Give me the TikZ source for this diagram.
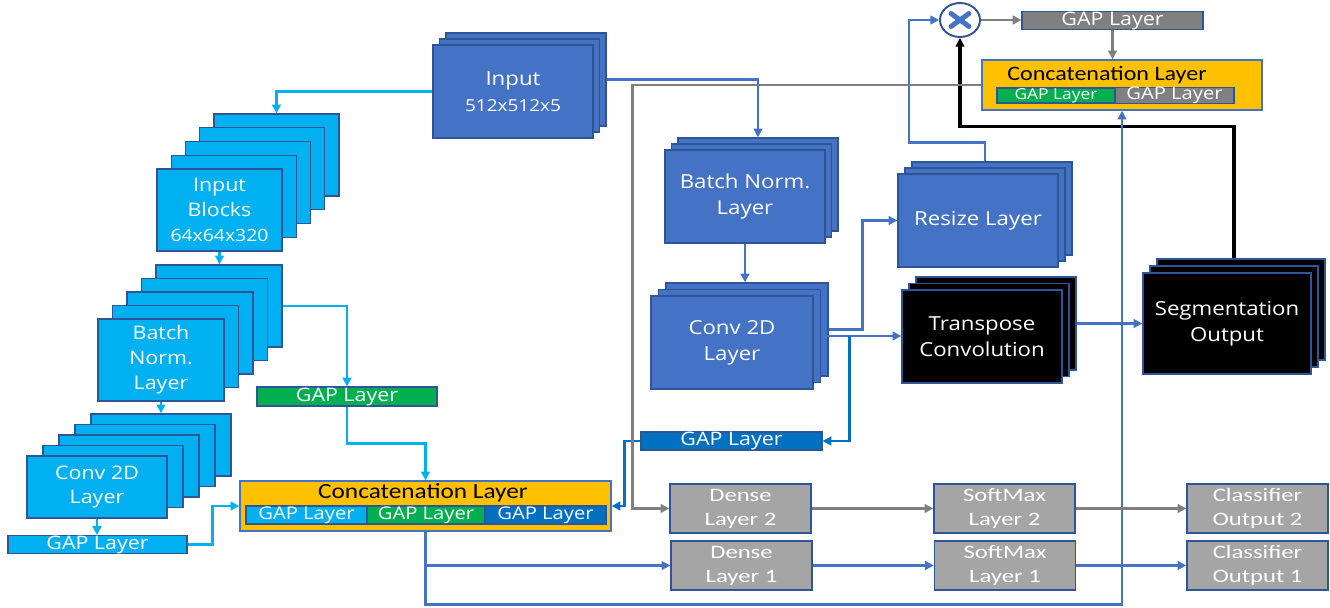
\documentclass[tikz,border=0pt]{standalone}
\usepackage{fontspec}
\setmainfont{Open Sans}[FakeStretch=1.15]
\newfontfamily\calfont{Carlito}[FakeStretch=1.17]
\newfontfamily\densefont{Carlito}[FakeStretch=1.3]
\usetikzlibrary{arrows.meta,shapes.geometric,calc}

\begin{document}
\begin{tikzpicture}[x=0.02cm, y=-0.02cm,
  layer/.style={draw=edgeblue, line width=0.8pt, inner sep=0pt, align=center,
    text=white, font=\fontsize{10.6}{14.2}\selectfont},
  cyanlayer/.style={layer, fill=cyanfill},
  bluelayer/.style={layer, fill=bluefill, font=\fontsize{11}{14.6}\selectfont},
  blacklayer/.style={layer, fill=black, font=\fontsize{11}{14.6}\selectfont},
  greylayer/.style={layer, fill=greyfill, minimum width=2.82cm, minimum height=0.98cm,
    font=\densefont\fontsize{10.8}{13.6}\selectfont},
  gapbar/.style={layer, line width=0.6pt},
  catbox/.style={draw=bluefill, line width=0.8pt, fill=goldfill, inner sep=0pt},
  cattitle/.style={inner sep=0pt, text=black, font=\calfont\fontsize{12.3}{14}\selectfont},
  link/.style={line width=1.5pt, -{Triangle[length=5pt,width=5pt]}},
  cyanline/.style={draw=cyanfill},
  blueline/.style={draw=bluefill},
  darkline/.style={draw=darkfill},
  greyline/.style={draw=linegrey, line width=1.7pt}]

  % Colours
  \definecolor{cyanfill}{RGB}{0,176,240}
  \definecolor{bluefill}{RGB}{68,114,196}
  \definecolor{darkfill}{RGB}{0,112,192}
  \definecolor{edgeblue}{RGB}{47,85,151}
  \definecolor{greyfill}{RGB}{165,165,165}
  \definecolor{gapgrey}{RGB}{128,128,128}
  \definecolor{linegrey}{RGB}{127,127,127}
  \definecolor{goldfill}{RGB}{255,192,0}
  \definecolor{gapgreen}{RGB}{0,176,80}

  \useasboundingbox (0,0) rectangle (1330,608);

  % Input blocks (left branch)
  \foreach \k in {4,3,2,1}
    \node[cyanlayer, minimum width=2.5cm, minimum height=1.64cm] (blk-\k) at (219.5+14.25*\k, 210-13.75*\k) {};
  \node[cyanlayer, minimum width=2.5cm, minimum height=1.64cm] (blk) at (219.5,210)
    {Input\\Blocks\\{\fontsize{9.6}{12}\selectfont 64x64x320}};

  % Batch norm. (left branch)
  \foreach \k in {4,3,2,1}
    \node[cyanlayer, minimum width=2.52cm, minimum height=1.64cm] (bnl-\k) at (161+14.5*\k, 360-13.5*\k) {};
  \node[cyanlayer, minimum width=2.52cm, minimum height=1.64cm] (bnl) at (161,360) {Batch\\Norm.\\Layer};

  % Conv 2D (left branch)
  \foreach \k in {4,3,2,1}
    \node[cyanlayer, minimum width=2.8cm, minimum height=1.24cm] (cvl-\k) at (97+16*\k, 487-10.5*\k) {};
  \node[cyanlayer, minimum width=2.8cm, minimum height=1.24cm] (cvl) at (97,487) {Conv 2D\\Layer};

  % GAP layers of the left branch
  \node[gapbar, fill=gapgreen, minimum width=3.6cm, minimum height=0.38cm] (gapg) at (347,396.5) {GAP Layer};
  \node[gapbar, fill=cyanfill, minimum width=3.58cm, minimum height=0.34cm] (gapc) at (97.5,544.5) {GAP Layer};

  % Concatenation (bottom)
  \node[catbox, minimum width=7.42cm, minimum height=1cm] (ccb) at (425.5,506) {};
  \node[cattitle] (ccb-t) at (423,493) {Concatenation Layer};
  \node[gapbar, fill=cyanfill, minimum width=2.42cm, minimum height=0.36cm, font=\fontsize{10}{12}\selectfont] (ccb-a) at (306.5,515) {GAP Layer};
  \node[gapbar, fill=gapgreen, minimum width=2.36cm, minimum height=0.36cm, font=\fontsize{10}{12}\selectfont] (ccb-b) at (426,515) {GAP Layer};
  \node[gapbar, fill=darkfill, minimum width=2.42cm, minimum height=0.36cm, font=\fontsize{10}{12}\selectfont] (ccb-c) at (545.5,515) {GAP Layer};

  % Input volume
  \foreach \k in {2,1}
    \node[bluelayer, minimum width=3.2cm, minimum height=1.86cm] (inp-\k) at (513+6.5*\k, 91.5-6*\k) {};
  \node[bluelayer, minimum width=3.2cm, minimum height=1.86cm] (inp) at (513,91.5)
    {Input\\{\fontsize{9.4}{12}\selectfont 512x512x5}};

  % Segmentation branch
  \foreach \k in {2,1}
    \node[bluelayer, minimum width=3.2cm, minimum height=1.86cm] (bnm-\k) at (745+6.5*\k, 196.5-6*\k) {};
  \node[bluelayer, minimum width=3.2cm, minimum height=1.86cm] (bnm) at (745,196.5) {Batch Norm.\\Layer};

  \foreach \k in {2,1}
    \node[bluelayer, minimum width=3.24cm, minimum height=1.86cm] (cvm-\k) at (732+7.5*\k, 342.5-6.5*\k) {};
  \node[bluelayer, minimum width=3.24cm, minimum height=1.86cm] (cvm) at (732,342.5) {Conv 2D\\Layer};

  \foreach \k in {2,1}
    \node[bluelayer, minimum width=3.2cm, minimum height=1.86cm] (rsz-\k) at (978+7*\k, 220.5-6*\k) {};
  \node[bluelayer, minimum width=3.2cm, minimum height=1.86cm] (rsz) at (978,220.5) {Resize Layer};

  \foreach \k in {2,1}
    \node[blacklayer, minimum width=3.2cm, minimum height=1.86cm] (tcv-\k) at (982+7*\k, 336.5-6.5*\k) {};
  \node[blacklayer, minimum width=3.2cm, minimum height=1.86cm] (tcv) at (982,336.5) {Transpose\\Convolution};

  \foreach \k in {2,1}
    \node[blacklayer, minimum width=3.36cm, minimum height=2.02cm] (seg-\k) at (1227+7*\k, 323.5-7*\k) {};
  \node[blacklayer, minimum width=3.36cm, minimum height=2.02cm] (seg) at (1227,323.5) {Segmentation\\Output};

  \node[gapbar, fill=darkfill, minimum width=3.62cm, minimum height=0.32cm] (gapb) at (731.5,441) {GAP Layer};

  % Multiply, GAP and concatenation (top right)
  \node[ellipse, draw=edgeblue, line width=1.1pt, fill=white, minimum width=0.8cm, minimum height=0.68cm] (mult) at (960,20) {};
  \draw[bluefill, line width=2.8pt, line cap=round] ($(mult.center)+(-9,-6.5)$) -- ($(mult.center)+(9,6.5)$);
  \draw[bluefill, line width=2.8pt, line cap=round] ($(mult.center)+(-9,6.5)$) -- ($(mult.center)+(9,-6.5)$);
  \node[gapbar, fill=gapgrey, minimum width=3.62cm, minimum height=0.34cm] (gapt) at (1112.5,20.5) {GAP Layer};
  \node[catbox, minimum width=5.6cm, minimum height=1cm] (ct) at (1122,85) {};
  \node[cattitle, font=\calfont\fontsize{11.7}{14}\selectfont] (ct-t) at (1107,75.5) {Concatenation Layer};
  \node[gapbar, fill=gapgreen, minimum width=2.36cm, minimum height=0.3cm, font=\fontsize{8.6}{10}\selectfont] (ct-a) at (1056,95.5) {GAP Layer};
  \node[gapbar, fill=gapgrey, minimum width=2.38cm, minimum height=0.3cm, font=\fontsize{10}{10}\selectfont] (ct-b) at (1174.5,95.5) {GAP Layer};

  % Classifier heads
  \node[greylayer] (dn2) at (740.5,508.5) {Dense\\Layer 2};
  \node[greylayer] (dn1) at (741.5,565.5) {Dense\\Layer 1};
  \node[greylayer] (sm2) at (1004.5,508.5) {SoftMax\\Layer 2};
  \node[greylayer] (sm1) at (1005,565.5) {SoftMax\\Layer 1};
  \node[greylayer] (cl2) at (1257.5,508.5) {Classifier\\Output 2};
  \node[greylayer] (cl1) at (1257.5,565.5) {Classifier\\Output 1};

  % Left branch links
  \draw[link, cyanline] (inp.west) -| (blk-4.north);
  \draw[link, cyanline] (blk.south) -- (blk.south |- bnl-4.north);
  \draw[link, cyanline] (bnl-4.east) -| (gapg.north);
  \draw[link, cyanline] (bnl.south) -- (bnl.south |- cvl-4.north);
  \draw[link, cyanline] (cvl.south) -- (cvl.south |- gapc.north);
  \draw[link, cyanline] (gapg.south) |- ($(gapg.south)!0.5!(ccb.north)$) -| (ccb.north);
  \draw[link, cyanline] (gapc.east) -- ++(25,0) |- (ccb.west);

  % Segmentation branch links
  \draw[link, blueline] (inp-2.east) -| (bnm-2.north);
  \draw[link, blueline] (bnm.south) -- (bnm.south |- cvm-2.north);
  \draw[link, blueline] (cvm-2.east) -- ++(34,0) |- (rsz.west);
  \draw[link, blueline] (cvm-1.east) -- (cvm-1.east -| tcv.west);
  \coordinate (split) at ($(cvm-1.east)+(28,0)$);
  \draw[link, darkline] (split) |- (gapb.east);
  \draw[link, darkline] (gapb.west) -- ++(-16,0) |- (ccb.east);
  \draw[link, blueline] (tcv-2.east) -- (seg.west);
  \draw[link, black, line width=2pt] (seg-2.north -| seg-1.north) -- ++(0,-132) -| (mult.south);
  \draw[link, blueline] (rsz-2.north -| rsz-1.north) -- ++(0,-19) -| ($(mult.west)+(-30,0)$) -- (mult.west);
  \draw[link, greyline] (mult.east) -- (mult.east -| gapt.west);
  \draw[link, greyline] (gapt.south) -- (gapt.south |- ct.north);

  % Classifier links
  \draw[link, greyline] (ct.west) -- ++(-349,0) |- (dn2.west);
  \draw[link, blueline] (ccb.south) |- (dn1.west);
  \draw[link, blueline] (ccb.south) -- ++(0,73) -| (ct.south);
  \draw[link, greyline] (dn2.east) -- (sm2.west);
  \draw[link, greyline] (sm2.east) -- (cl2.west);
  \draw[link, blueline] (dn1.east) -- (sm1.west);
  \draw[link, blueline] (sm1.east) -- (cl1.west);

\end{tikzpicture}
\end{document}
